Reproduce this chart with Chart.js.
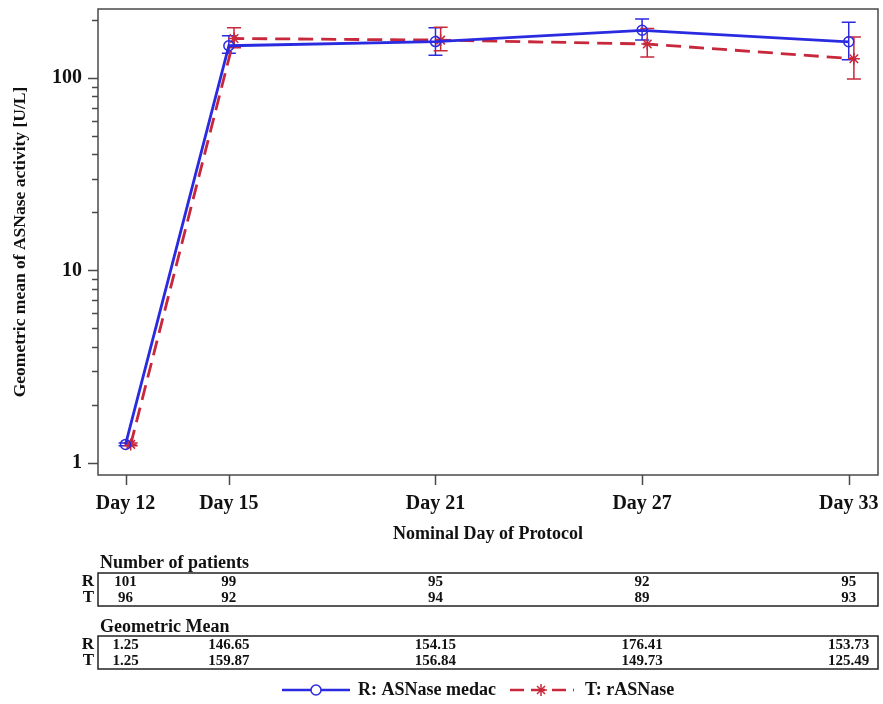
<!DOCTYPE html>
<html lang="en">
<head>
<meta charset="UTF-8">
<title>ASNase activity</title>
<script src="https://cdn.jsdelivr.net/npm/chart.js"></script>
<style>
    body { margin: 0; padding: 0; background: #fff; }
    #wrap { width: 883px; height: 704px; }
</style>
</head>
<body>
<div id="wrap"><canvas id="asnChart" width="883" height="704"></canvas></div>
<script>
    // nominal protocol days and labels
    const days = [12, 15, 21, 27, 33];
    const dayLabels = ['Day 12', 'Day 15', 'Day 21', 'Day 27', 'Day 33'];

    // R: ASNase medac
    const rMean = [1.25, 146.65, 154.15, 176.41, 153.73];
    const rLower = [1.23, 134, 131, 157, 124];
    const rUpper = [1.27, 165, 182, 202, 194];
    const rPatients = [101, 99, 95, 92, 95];

    // T: rASNase
    const tMean = [1.25, 159.87, 156.84, 149.73, 125.49];
    const tLower = [1.23, 143, 138, 128, 98.5];
    const tUpper = [1.27, 182, 183, 180, 163];
    const tPatients = [96, 92, 94, 89, 93];

    const yMinorTicks = [2, 3, 4, 5, 6, 7, 8, 9, 20, 30, 40, 50, 60, 70, 80, 90, 200];
    const yMajorTicks = [1, 10, 100];

    const BLUE = '#2a2ae0';
    const RED = '#c8283c';
    const FRAME = '#4a4a4a';
    const SERIF = '"Liberation Serif", "Times New Roman", serif';
    const tOffset = 0.15; // T series drawn slightly right of the R series

    const series = [
        { mean: rMean, lo: rLower, hi: rUpper, dx: 0, color: BLUE },
        { mean: tMean, lo: tLower, hi: tUpper, dx: tOffset, color: RED }
    ];

    const extras = {
        id: 'extras',
        beforeDraw(chart) {
            const c = chart.ctx;
            c.save();
            c.fillStyle = '#fff';
            c.fillRect(0, 0, chart.width, chart.height);
            c.restore();
        },
        beforeDatasetsDraw(chart) {
            // error bars
            const c = chart.ctx;
            const xs = chart.scales.x, ys = chart.scales.y;
            c.save();
            c.lineWidth = 1.5;
            series.forEach(s => {
                c.strokeStyle = s.color;
                days.forEach((d, i) => {
                    const px = xs.getPixelForValue(d + s.dx);
                    const y1 = ys.getPixelForValue(s.lo[i]);
                    const y2 = ys.getPixelForValue(s.hi[i]);
                    c.beginPath();
                    c.moveTo(px, y1); c.lineTo(px, y2);
                    c.moveTo(px - 7, y1); c.lineTo(px + 7, y1);
                    c.moveTo(px - 7, y2); c.lineTo(px + 7, y2);
                    c.stroke();
                });
            });
            c.restore();
        },
        afterDraw(chart) {
            const c = chart.ctx;
            const a = chart.chartArea;
            const xs = chart.scales.x, ys = chart.scales.y;
            c.save();

            // frame
            c.strokeStyle = FRAME;
            c.lineWidth = 1.5;
            c.strokeRect(a.left, a.top, a.right - a.left, a.bottom - a.top);

            // tick marks
            c.beginPath();
            days.forEach(d => {
                const px = Math.round(xs.getPixelForValue(d)) + 0.5;
                c.moveTo(px, a.bottom); c.lineTo(px, a.bottom + 10);
            });
            yMajorTicks.forEach(v => {
                const py = Math.round(ys.getPixelForValue(v)) + 0.5;
                c.moveTo(a.left, py); c.lineTo(a.left - 10, py);
            });
            yMinorTicks.forEach(v => {
                const py = Math.round(ys.getPixelForValue(v)) + 0.5;
                c.moveTo(a.left, py); c.lineTo(a.left - 6, py);
            });
            c.stroke();

            // axis titles
            c.fillStyle = '#111';
            c.font = 'bold 18px ' + SERIF;
            c.textAlign = 'center';
            c.textBaseline = 'middle';
            c.fillText('Nominal Day of Protocol', (a.left + a.right) / 2, 534);
            c.save();
            c.translate(20, 242);
            c.rotate(-Math.PI / 2);
            c.font = 'bold 17.5px ' + SERIF;
            c.fillText('Geometric mean of ASNase activity [U/L]', 0, 0);
            c.restore();

            // tables under the plot
            const drawTable = (title, titleY, boxTop, rowR, rowT, fmt) => {
                c.font = 'bold 18px ' + SERIF;
                c.textAlign = 'left';
                c.fillText(title, 100, titleY);
                c.strokeStyle = '#222';
                c.lineWidth = 1.5;
                c.strokeRect(a.left, boxTop, a.right - a.left, 33);
                c.font = 'bold 17px ' + SERIF;
                c.textAlign = 'right';
                c.fillText('R', 94, boxTop + 9);
                c.fillText('T', 94, boxTop + 25);
                c.font = 'bold 15px ' + SERIF;
                c.textAlign = 'center';
                days.forEach((d, i) => {
                    const px = xs.getPixelForValue(d);
                    c.fillText(fmt(rowR[i]), px, boxTop + 9);
                    c.fillText(fmt(rowT[i]), px, boxTop + 25);
                });
            };
            drawTable('Number of patients', 563, 573, rPatients, tPatients, v => String(v));
            drawTable('Geometric Mean', 627, 636, rMean, tMean, v => v.toFixed(2));

            // legend
            const ly = 690;
            c.lineWidth = 2.5;
            c.strokeStyle = BLUE;
            c.beginPath(); c.moveTo(282, ly); c.lineTo(350, ly); c.stroke();
            c.lineWidth = 1.5;
            c.fillStyle = '#fff';
            c.beginPath(); c.arc(316, ly, 5, 0, Math.PI * 2); c.fill(); c.stroke();
            c.strokeStyle = RED;
            c.lineWidth = 2.5;
            c.setLineDash([14, 7]);
            c.beginPath(); c.moveTo(510, ly); c.lineTo(574, ly); c.stroke();
            c.setLineDash([]);
            c.lineWidth = 1.5;
            c.beginPath();
            c.moveTo(535, ly); c.lineTo(547, ly);
            c.moveTo(541, ly - 6); c.lineTo(541, ly + 6);
            c.moveTo(537, ly - 4); c.lineTo(545, ly + 4);
            c.moveTo(545, ly - 4); c.lineTo(537, ly + 4);
            c.stroke();
            c.fillStyle = '#111';
            c.font = 'bold 18px ' + SERIF;
            c.textAlign = 'left';
            c.fillText('R: ASNase medac', 358, ly);
            c.fillText('T: rASNase', 585, ly);

            c.restore();
        }
    };

    const chart = new Chart(document.getElementById('asnChart').getContext('2d'), {
        type: 'scatter',
        data: {
            datasets: [
                {
                    label: 'R: ASNase medac',
                    data: days.map((d, i) => ({ x: d, y: rMean[i] })),
                    showLine: true,
                    borderColor: BLUE,
                    borderWidth: 2.8,
                    pointStyle: 'circle',
                    pointRadius: 5,
                    pointBorderWidth: 1.5,
                    pointBorderColor: BLUE,
                    pointBackgroundColor: 'rgba(255,255,255,0)'
                },
                {
                    label: 'T: rASNase',
                    data: days.map((d, i) => ({ x: d + tOffset, y: tMean[i] })),
                    showLine: true,
                    borderColor: RED,
                    borderWidth: 2.8,
                    borderDash: [15, 8],
                    pointStyle: 'star',
                    pointRadius: 6,
                    pointBorderWidth: 1.5,
                    pointBorderColor: RED,
                    pointBackgroundColor: RED
                }
            ]
        },
        options: {
            responsive: false,
            animation: false,
            layout: { autoPadding: false, padding: { top: 9, right: 5, left: 0, bottom: 0 } },
            plugins: {
                legend: { display: false },
                tooltip: { enabled: false }
            },
            scales: {
                x: {
                    type: 'linear',
                    min: 11.2,
                    max: 33.85,
                    afterBuildTicks: s => { s.ticks = days.map(v => ({ value: v })); },
                    afterFit: s => { s.height = 229; s.paddingLeft = 0; s.paddingRight = 0; },
                    ticks: {
                        callback: (v) => dayLabels[days.indexOf(v)],
                        autoSkip: false,
                        maxRotation: 0,
                        padding: 17,
                        color: '#111',
                        font: { family: SERIF, size: 20, weight: 'bold' }
                    },
                    grid: { display: false, drawTicks: false },
                    border: { display: false }
                },
                y: {
                    type: 'logarithmic',
                    min: 0.867,
                    max: 227.5,
                    afterBuildTicks: s => { s.ticks = yMajorTicks.map(v => ({ value: v })); },
                    afterFit: s => { s.width = 98; s.paddingTop = 0; s.paddingBottom = 0; },
                    ticks: {
                        callback: v => String(v),
                        padding: 16,
                        color: '#111',
                        font: { family: SERIF, size: 20, weight: 'bold' }
                    },
                    grid: { display: false, drawTicks: false },
                    border: { display: false }
                }
            }
        },
        plugins: [extras]
    });
</script>
</body>
</html>
